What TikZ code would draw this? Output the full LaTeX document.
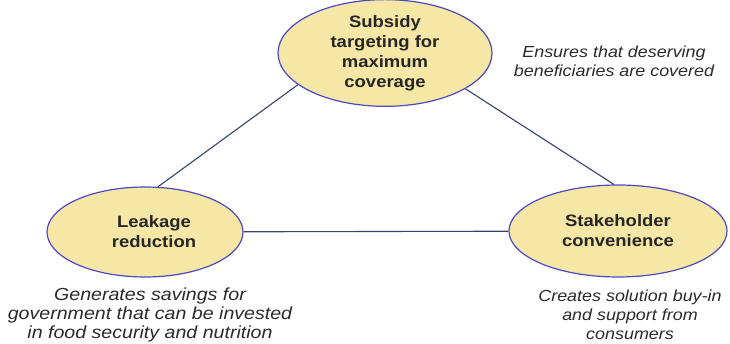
\documentclass[tikz,border=0pt]{standalone}
\usepackage{fontspec}
\setmainfont{Liberation Sans}[FakeStretch=1.12]
\usepackage{tikz}
\usetikzlibrary{shapes.geometric}

\definecolor{fillpale}{HTML}{F7E7A6}
\definecolor{rimblue}{HTML}{4A4AC4}
\definecolor{linknavy}{HTML}{34436F}
\definecolor{textgray}{HTML}{2A2A2A}

\begin{document}
\begin{tikzpicture}[x=1pt,y=1pt,
	goal/.style={ellipse,draw=rimblue,line width=1.2pt,fill=fillpale,inner sep=0pt,
		align=center,font=\fontsize{16.5}{20}\selectfont\bfseries,text=black!85},
	note/.style={align=center,font=\fontsize{16}{19}\selectfont\itshape,text=textgray},
	link/.style={draw=linknavy,line width=1.1pt}]
	\useasboundingbox (0,0) rectangle (730,344);

	\node[goal,minimum width=214pt,minimum height=90pt] (subsidy) at (385, 291) {Subsidy\\targeting for\\maximum\\coverage};
	\node[goal,minimum width=196pt,minimum height=90pt] (leakage) at (145, 112) {\hspace*{18pt}Leakage\\\hspace*{18pt}reduction};
	\node[goal,minimum width=218pt,minimum height=92pt] (stake) at (618, 113) {Stakeholder\\convenience};

	\node[note] (ensures) at (614, 283) {Ensures that deserving\\beneficiaries are covered};
	\node[note,font=\fontsize{17.5}{19}\selectfont\itshape] (savings) at (150, 29) {Generates savings for\\government that can be invested\\in food security and nutrition};
	\node[note] (buyin) at (630, 29) {Creates solution buy-in\\and support from\\consumers};

	\path[link] (subsidy.200) edge (leakage.74);
	\path[link] (subsidy.336) edge (stake.95);
	\path[link] (leakage) edge (stake);
\end{tikzpicture}
\end{document}
